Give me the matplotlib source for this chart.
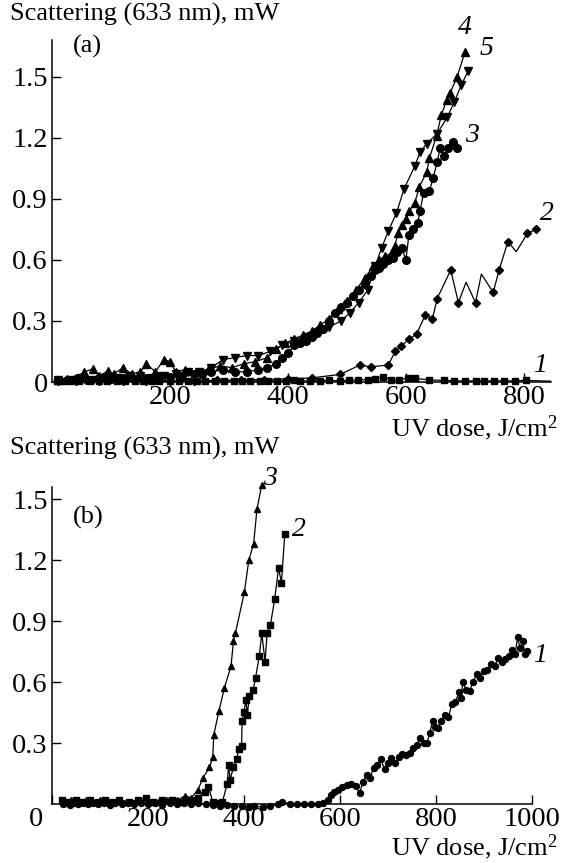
import matplotlib
matplotlib.use("Agg")
import matplotlib.pyplot as plt
from matplotlib.transforms import ScaledTranslation

plt.rcParams['font.family'] = ['Liberation Serif', 'DejaVu Serif']
plt.rcParams['mathtext.fontset'] = 'custom'
plt.rcParams['mathtext.rm'] = 'Liberation Serif'
plt.rcParams['mathtext.it'] = 'Liberation Serif:italic'

W, H = 561, 863

# ---- panel (a) ----
a1_x = [8, 20, 32, 45, 64, 80, 94, 110, 124, 140, 155, 170, 182, 200, 215, 230, 245,
        260, 276, 292, 309, 322, 336, 352, 367, 382, 397, 410, 421, 438, 454, 470,
        488, 503, 518, 536, 548, 561, 575, 588, 603, 615, 640, 664, 682, 700, 718,
        733, 750, 767, 785, 803, 845]
a1_y = [0.005, 0.006, 0.004, 0.005, 0.006, 0.004, 0.005, 0.006, 0.004, 0.005, 0.006,
        0.004, 0.005, 0.006, 0.004, 0.005, 0.006, 0.004, 0.005, 0.006, 0.004, 0.005,
        0.006, 0.005, 0.006, 0.005, 0.006, 0.008, 0.005, 0.006, 0.007, 0.008, 0.006,
        0.008, 0.01, 0.012, 0.015, 0.025, 0.012, 0.01, 0.02, 0.018, 0.01, 0.008,
        0.006, 0.005, 0.006, 0.005, 0.006, 0.005, 0.006, 0.008, 0.004]

a2_x = [10, 40, 80, 120, 160, 200, 240, 280, 320, 360, 400, 440, 488, 522, 541, 570,
        582, 591, 605, 618, 633, 645, 653, 676, 689, 702, 718, 728, 748, 758, 773,
        787, 806, 821]
a2_y = [0.005, 0.005, 0.004, 0.006, 0.005, 0.005, 0.006, 0.008, 0.01, 0.012, 0.015,
        0.02, 0.037, 0.083, 0.075, 0.083, 0.15, 0.175, 0.21, 0.235, 0.33, 0.31, 0.41,
        0.55, 0.39, 0.49, 0.39, 0.53, 0.44, 0.55, 0.69, 0.64, 0.73, 0.75]
a2_marks = [0, 1, 2, 3, 4, 5, 6, 7, 8, 9, 10, 11, 12, 13, 14, 15, 16, 17, 18, 19, 20,
            21, 22, 23, 24, 26, 28, 29, 30, 32, 33]

a3_x = [10, 25, 40, 60, 80, 100, 120, 140, 160, 180, 200, 220, 240, 255, 270, 290, 310,
        330, 350, 365, 380, 390, 400, 410, 420, 430, 440, 450, 460, 470, 480, 490,
        500, 510, 520, 530, 540, 548, 555, 562, 570, 578, 585, 593, 600, 605, 612,
        620, 624, 630, 640, 646, 653, 658, 665, 672, 680, 687]
a3_y = [0.01, 0.01, 0.015, 0.01, 0.02, 0.015, 0.02, 0.01, 0.02, 0.03, 0.025, 0.03,
        0.04, 0.04, 0.05, 0.06, 0.05, 0.05, 0.06, 0.07, 0.09, 0.12, 0.14, 0.18, 0.19,
        0.2, 0.22, 0.24, 0.26, 0.3, 0.34, 0.37, 0.39, 0.42, 0.45, 0.48, 0.52, 0.55,
        0.56, 0.58, 0.6, 0.61, 0.64, 0.66, 0.6, 0.72, 0.75, 0.78, 0.84, 0.93, 0.94,
        1.0, 1.08, 1.15, 1.11, 1.15, 1.18, 1.15]

a4_x = [10, 25, 40, 55, 70, 80, 95, 105, 120, 135, 150, 160, 175, 190, 200, 210, 225,
        245, 265, 285, 305, 325, 345, 365, 380, 395, 410, 425, 440, 455, 470, 485,
        500, 515, 530, 545, 555, 565, 575, 581, 587, 593, 600, 606, 615, 623, 635,
        640, 652, 660, 669, 675, 687, 700]
a4_y = [0.01, 0.015, 0.02, 0.05, 0.065, 0.03, 0.055, 0.04, 0.07, 0.04, 0.05, 0.09,
        0.05, 0.11, 0.1, 0.05, 0.06, 0.05, 0.06, 0.08, 0.07, 0.09, 0.1, 0.12, 0.16,
        0.19, 0.21, 0.23, 0.25, 0.28, 0.31, 0.36, 0.4, 0.45, 0.51, 0.57, 0.6, 0.62,
        0.63, 0.67, 0.73, 0.77, 0.8, 0.84, 0.88, 0.96, 1.03, 1.10, 1.21, 1.31, 1.385,
        1.42, 1.5, 1.62]

a5_x = [10, 30, 50, 70, 90, 110, 130, 150, 170, 190, 210, 230, 250, 270, 290, 310, 330,
        350, 370, 390, 410, 430, 450, 470, 490, 505, 520, 535, 548, 559, 570, 584,
        597, 615, 624, 635, 653, 670, 682, 694, 706]
a5_y = [0.01, 0.01, 0.02, 0.01, 0.02, 0.02, 0.03, 0.03, 0.02, 0.03, 0.04, 0.05, 0.05,
        0.07, 0.11, 0.12, 0.13, 0.13, 0.15, 0.18, 0.2, 0.22, 0.24, 0.27, 0.3, 0.34,
        0.39, 0.45, 0.57, 0.66, 0.74, 0.83, 0.95, 1.06, 1.13, 1.17, 1.22, 1.30, 1.375,
        1.46, 1.53]

# ---- panel (b) ----
b1_x = [22, 30, 38, 46, 55, 65, 75, 85, 95, 108, 120, 132, 145, 158, 170, 185, 200,
        215, 230, 245, 260, 275, 290, 305, 320, 335, 350, 365, 380, 395, 410, 420,
        440, 455, 470, 480, 495, 510, 525, 540, 555, 565,
        575, 581, 588, 596, 604, 615, 622, 633, 641, 648, 656, 663, 670, 677, 685,
        693, 700, 707, 715, 722, 730, 738, 745, 752, 760, 767, 774, 781, 787, 793,
        798, 804, 811, 819, 826, 833, 840, 848, 852, 856, 863, 870, 877, 885, 892,
        900, 907, 915, 922, 930, 937, 944, 952, 959, 965, 970, 975, 981, 985, 989]
b1_y = [0.0, 0.005, -0.003, 0.004, 0.0, 0.006, -0.002, 0.004, 0.0, 0.005, -0.003,
        0.003, 0.0, 0.005, -0.002, 0.004, 0.0, 0.003, -0.003, 0.004, 0.0, 0.005,
        -0.002, 0.004, 0.0, -0.005, -0.008, -0.006, -0.01, -0.012, -0.015, -0.012,
        -0.015, -0.012, 0.0, 0.012, 0.0, 0.002, 0.0, 0.002, 0.0, 0.003,
        0.02, 0.046, 0.06, 0.07, 0.085, 0.095, 0.1, 0.087, 0.054, 0.11, 0.145, 0.13,
        0.178, 0.19, 0.22, 0.17, 0.2, 0.227, 0.2, 0.23, 0.244, 0.24, 0.25, 0.277,
        0.29, 0.326, 0.3, 0.3, 0.35, 0.41, 0.38, 0.376, 0.41, 0.44, 0.43, 0.49, 0.5,
        0.55, 0.52, 0.6, 0.56, 0.557, 0.6, 0.64, 0.62, 0.656, 0.66, 0.69, 0.68, 0.72,
        0.7, 0.713, 0.73, 0.76, 0.74, 0.82, 0.77, 0.80, 0.74, 0.755]

b2_x = [20, 35, 50, 65, 80, 95, 110, 125, 140, 160, 180, 195, 210, 230, 250, 265, 280,
        295, 305, 318, 326, 335, 345, 355, 365, 368, 371, 378, 385, 389, 395, 396,
        400, 404, 407, 411, 419, 424, 432, 437, 444, 448, 455, 464, 472, 478, 485]
b2_y = [0.02, 0.01, 0.02, 0.01, 0.02, 0.01, 0.02, 0.01, 0.02, 0.01, 0.02, 0.03, 0.01,
        0.02, 0.02, 0.01, 0.02, 0.02, 0.03, 0.06, 0.085, 0.01, 0.005, 0.01, 0.10,
        0.19, 0.12, 0.18, 0.22, 0.27, 0.285, 0.41, 0.455, 0.51, 0.44, 0.53, 0.56,
        0.62, 0.73, 0.84, 0.70, 0.84, 0.88, 1.01, 1.16, 1.09, 1.33]

b3_x = [20, 30, 40, 55, 70, 85, 100, 120, 140, 160, 180, 200, 220, 240, 260, 278, 290,
        304, 315, 328, 335, 337, 348, 359, 373, 378, 382, 401, 410, 420, 427, 437]
b3_y = [0.02, 0.01, 0.02, 0.01, 0.02, 0.01, 0.02, 0.01, 0.02, 0.01, 0.02, 0.01, 0.01,
        0.02, 0.02, 0.04, 0.03, 0.07, 0.13, 0.18, 0.23, 0.34, 0.46, 0.57, 0.68, 0.80,
        0.84, 1.045, 1.20, 1.28, 1.45, 1.57]

a_yticks = [0, 0.3, 0.6, 0.9, 1.2, 1.5]
a_xticks = [200, 400, 600, 800]
b_yticks = [0.3, 0.6, 0.9, 1.2, 1.5]
b_xticks = [0, 200, 400, 600, 800, 1000]

fig = plt.figure(figsize=(W / 100, H / 100), dpi=100)


def box(left, top, right, bottom):
    return [left / W, 1 - bottom / H, (right - left) / W, (bottom - top) / H]


def style(ax):
    for s in ['top', 'right']:
        ax.spines[s].set_visible(False)
    for s in ['left', 'bottom']:
        ax.spines[s].set_linewidth(1.1)
    ax.tick_params(direction='in', length=6.5, width=1.0, labelsize=20.5, pad=3)


def curve(ax, x, y, marker, ms, marks=None):
    ax.plot(x, y, color='black', lw=0.9, marker=marker, ms=ms, mfc='black',
            mec='black', markevery=marks, clip_on=False)


ax_a = fig.add_axes(box(52, 40, 551, 382))
style(ax_a)
curve(ax_a, a1_x, a1_y, 's', 5, marks=slice(0, -1))
curve(ax_a, a2_x, a2_y, 'D', 4, marks=a2_marks)
curve(ax_a, a3_x, a3_y, 'o', 5.5)
curve(ax_a, a4_x, a4_y, '^', 5.5)
curve(ax_a, a5_x, a5_y, 'v', 5.5)
ax_a.set_xlim(0, 846)
ax_a.set_ylim(0, 1.68)
ax_a.set_xticks(a_xticks)
ax_a.set_yticks(a_yticks)
ax_a.set_yticklabels(['0', '0.3', '0.6', '0.9', '1.2', '1.5'])
ax_a.tick_params(axis='x', pad=2)
ax_a.text(36, 1.65, '(a)', fontsize=19, va='center', ha='left')
for lab, lx, ly in [('4', 700, 1.74), ('5', 737, 1.64), ('3', 712, 1.21),
                    ('2', 839, 0.83), ('1', 827, 0.08)]:
    ax_a.text(lx, ly, lab, fontsize=20, style='italic', ha='center', va='center',
              clip_on=False)

ax_b = fig.add_axes(box(52, 487, 532, 804))
style(ax_b)
curve(ax_b, b1_x, b1_y, 'o', 4.3)
curve(ax_b, b2_x, b2_y, 's', 4)
curve(ax_b, b3_x, b3_y, '^', 5)
ax_b.set_xlim(0, 1000)
ax_b.set_ylim(0, 1.56)
ax_b.set_xticks(b_xticks)
ax_b.set_yticks(b_yticks)
ax_b.tick_params(axis='x', pad=2)
# the zero label sits left of the corner
zero_lab = ax_b.get_xticklabels()[0]
zero_lab.set_transform(zero_lab.get_transform()
                       + ScaledTranslation(-0.16, 0, fig.dpi_scale_trans))
ax_b.text(44, 1.41, '(b)', fontsize=19, va='center', ha='left')
for lab, lx, ly in [('3', 454, 1.60), ('2', 514, 1.35), ('1', 1017, 0.73)]:
    ax_b.text(lx, ly, lab, fontsize=20, style='italic', ha='center', va='center',
              clip_on=False)

# axis titles
fig.text(10 / W, 1 - 14 / H, 'Scattering (633 nm), mW', fontsize=19, va='center')
fig.text(557 / W, 1 - 436 / H, 'UV dose, J/cm$^2$', fontsize=19, va='baseline',
         ha='right')
fig.text(10 / W, 1 - 448 / H, 'Scattering (633 nm), mW', fontsize=19, va='center')
fig.text(557 / W, 1 - 855 / H, 'UV dose, J/cm$^2$', fontsize=19, va='baseline',
         ha='right')

fig.savefig('out.png', dpi=100)
